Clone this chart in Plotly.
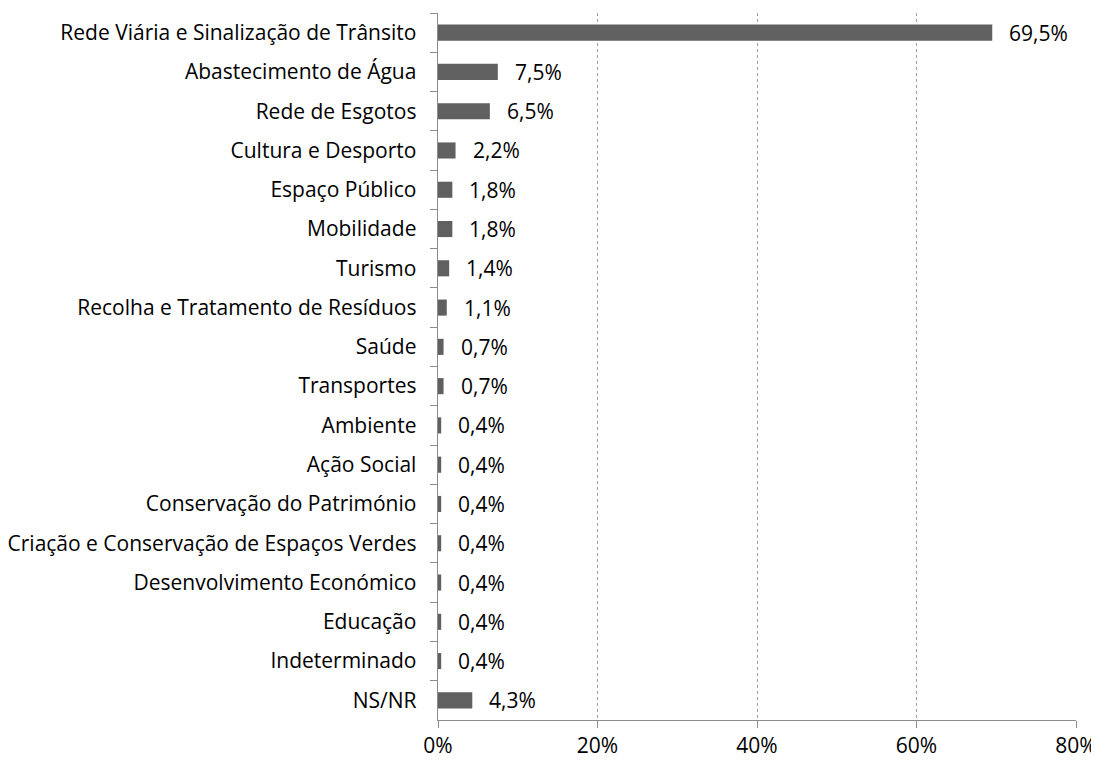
import plotly.graph_objects as go

categories = [
    "Rede Viária e Sinalização de Trânsito", "Abastecimento de Água", "Rede de Esgotos",
    "Cultura e Desporto", "Espaço Público", "Mobilidade", "Turismo",
    "Recolha e Tratamento de Resíduos", "Saúde", "Transportes", "Ambiente",
    "Ação Social", "Conservação do Património", "Criação e Conservação de Espaços Verdes",
    "Desenvolvimento Económico", "Educação", "Indeterminado", "NS/NR",
]
values = [69.5, 7.5, 6.5, 2.2, 1.8, 1.8, 1.4, 1.1, 0.7, 0.7, 0.4, 0.4, 0.4, 0.4, 0.4, 0.4, 0.4, 4.3]
labels = [f"{v:.1f}%".replace(".", ",") for v in values]

FONT = dict(family="'Open Sans', 'Noto Sans', sans-serif", size=21, color="#000000")

fig = go.Figure()
fig.add_bar(x=values, y=categories, orientation="h",
            marker=dict(color="#606060", line=dict(width=0)))
for c, v, t in zip(categories, values, labels):
    fig.add_annotation(x=v, y=c, text=t, showarrow=False, xanchor="left",
                       xshift=15, font=FONT)

# page body has an 8px margin, so the figure is shrunk by that amount
fig.update_layout(
    width=1091, height=752, plot_bgcolor="white", paper_bgcolor="white",
    margin=dict(l=430, r=23, t=5, b=40), bargap=0.59, showlegend=False,
    font=FONT,
)
fig.update_xaxes(range=[0, 80], tickvals=[0, 20, 40, 60, 80],
                 ticktext=["0%", "20%", "40%", "60%", "80%"], automargin=False,
                 showgrid=True, gridcolor="#a0a0a0", griddash="dot", gridwidth=1,
                 zeroline=False, showline=True, linecolor="#8c8c8c", linewidth=1,
                 ticks="outside", ticklen=7, tickcolor="#8c8c8c")
fig.update_yaxes(autorange="reversed", tickson="boundaries", ticks="outside",
                 ticklen=7, tickcolor="#8c8c8c", showline=True, linecolor="#8c8c8c",
                 linewidth=1, showgrid=False, ticksuffix="\u00a0\u00a0\u00a0", automargin=False)
fig.write_html("out.html")
